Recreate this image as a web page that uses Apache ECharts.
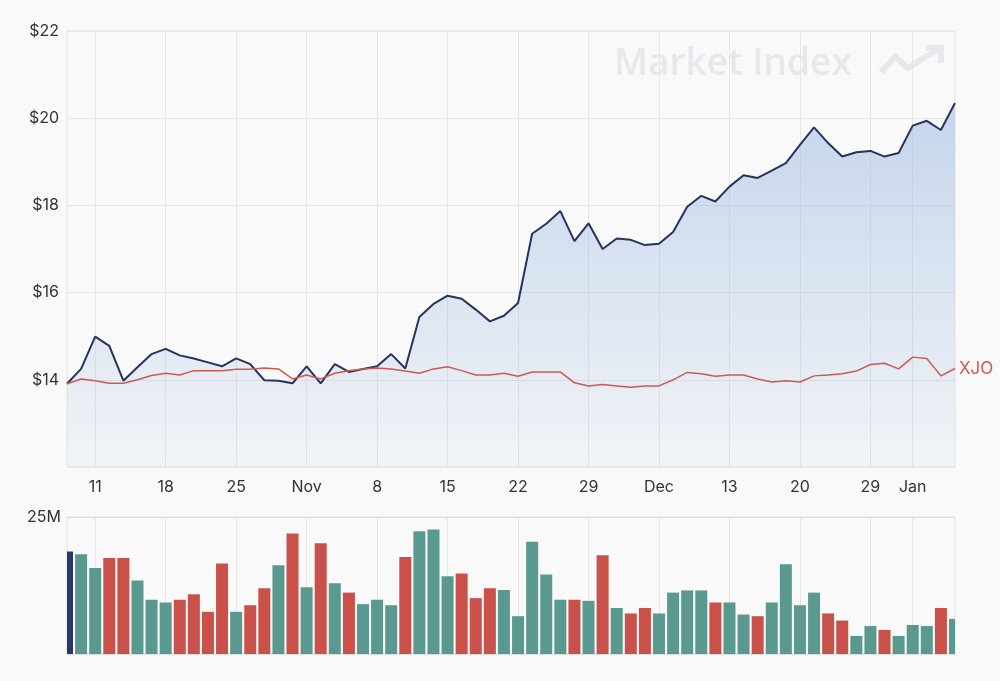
<!DOCTYPE html>
<html>
<head>
<meta charset="utf-8">
<script src="https://cdn.jsdelivr.net/npm/echarts@6/dist/echarts.min.js"></script>
<style>
  html,body{margin:0;padding:0;background:#f9f9f9;}
  #main{width:1000px;height:681px;}
</style>
</head>
<body>
<div id="main"></div>
<script>
// trading days, Oct 2021 - Jan 2022
var dates = [
  '2021-10-07','2021-10-08',
  '2021-10-11','2021-10-12','2021-10-13','2021-10-14','2021-10-15',
  '2021-10-18','2021-10-19','2021-10-20','2021-10-21','2021-10-22',
  '2021-10-25','2021-10-26','2021-10-27','2021-10-28','2021-10-29',
  '2021-11-01','2021-11-02','2021-11-03','2021-11-04','2021-11-05',
  '2021-11-08','2021-11-09','2021-11-10','2021-11-11','2021-11-12',
  '2021-11-15','2021-11-16','2021-11-17','2021-11-18','2021-11-19',
  '2021-11-22','2021-11-23','2021-11-24','2021-11-25','2021-11-26',
  '2021-11-29','2021-11-30','2021-12-01','2021-12-02','2021-12-03',
  '2021-12-06','2021-12-07','2021-12-08','2021-12-09','2021-12-10',
  '2021-12-13','2021-12-14','2021-12-15','2021-12-16','2021-12-17',
  '2021-12-20','2021-12-21','2021-12-22','2021-12-23','2021-12-24',
  '2021-12-29','2021-12-30','2021-12-31',
  '2022-01-04','2022-01-05','2022-01-06','2022-01-07'
];
var tickDates = ['2021-10-11','2021-10-18','2021-10-25','2021-11-01','2021-11-08','2021-11-15','2021-11-22','2021-11-29','2021-12-06','2021-12-13','2021-12-20','2021-12-29','2022-01-04'];
var tickText  = ['11','18','25','Nov','8','15','22','29','Dec','13','20','29','Jan'];

var price = [13.91,14.25,14.99,14.78,13.98,14.29,14.59,14.71,14.56,14.49,14.40,14.31,14.49,14.36,13.99,13.98,
  13.92,14.31,13.92,14.36,14.18,14.25,14.31,14.59,14.26,15.44,15.74,15.93,15.86,15.61,15.34,15.47,
  15.76,17.35,17.58,17.87,17.18,17.59,17.00,17.24,17.21,17.09,17.12,17.39,17.97,18.22,18.09,18.43,
  18.69,18.63,18.80,18.97,19.39,19.79,19.43,19.12,19.22,19.25,19.12,19.20,19.83,19.94,19.73,20.35];
var xjo = [13.91,14.02,13.98,13.92,13.92,14.00,14.10,14.15,14.11,14.21,14.21,14.21,14.24,14.24,14.27,14.25,
  14.02,14.11,14.02,14.15,14.21,14.25,14.27,14.25,14.20,14.15,14.25,14.30,14.21,14.11,14.11,14.15,
  14.08,14.18,14.18,14.18,13.93,13.86,13.89,13.86,13.83,13.86,13.86,14.00,14.17,14.14,14.08,14.11,
  14.11,14.02,13.95,13.98,13.95,14.09,14.11,14.14,14.20,14.35,14.38,14.25,14.52,14.49,14.09,14.26];
// volume in millions
var volume = [18.7,18.2,15.7,17.5,17.5,13.4,9.9,9.4,9.9,10.9,7.7,16.5,7.7,8.9,12.0,16.2,
  22.0,12.2,20.2,12.9,11.2,9.1,9.9,8.9,17.7,22.4,22.7,14.2,14.7,10.2,12.0,11.7,
  6.9,20.5,14.5,9.9,9.9,9.7,18.0,8.4,7.4,8.4,7.4,11.2,11.6,11.6,9.4,9.4,
  7.2,6.9,9.4,16.4,8.9,11.2,7.4,6.1,3.3,5.1,4.4,3.3,5.3,5.1,8.4,6.4];
// 1 = up day, -1 = down day, 0 = first (selected)
var dir = [0,1,1,-1,-1,1,1,1,-1,-1,-1,-1,1,-1,-1,1,
  -1,1,-1,1,-1,1,1,1,-1,1,1,1,-1,-1,-1,1,
  1,1,1,1,-1,1,-1,1,-1,-1,1,1,1,1,-1,1,
  1,-1,1,1,1,1,-1,-1,1,1,-1,1,1,1,-1,1];

var chart = echarts.init(document.getElementById('main'));
var labelFont = {color:'#333', fontSize:16, fontFamily:'Inter'};

function isTick(i){ return tickDates.indexOf(dates[i]) >= 0; }

var volData = [];
for(var i=0;i<volume.length;i++)
{
  var c = dir[i]==0 ? '#253869' : (dir[i]>0 ? '#5a9990' : '#c9514a');
  volData.push({value:[i, volume[i]], itemStyle:{color:c}});
}

// bars centred on the trading day, cut at the grid edge
function renderVolume(params, api)
{
  var top = api.coord([api.value(0), api.value(1)]);
  var base = api.coord([api.value(0), 0]);
  var w = 12;
  var cs = params.coordSys;
  var rect = echarts.graphic.clipRectByRect(
    {x:top[0]-w/2, y:top[1], width:w, height:base[1]-top[1]},
    {x:cs.x, y:cs.y, width:cs.width, height:cs.height}
  );
  if(!rect){ return; }
  return {type:'rect', shape:rect, style:{fill:api.visual('color')}};
}

var option = {
  backgroundColor:'#f9f9f9',
  animation:false,
  grid:[
    {left:67, right:45, top:31, height:436, show:true, borderColor:'#e4e4e4', borderWidth:1},
    {left:67, right:45, top:517, height:137, show:true, borderColor:'#e4e4e4', borderWidth:1}
  ],
  xAxis:[
    {
      type:'category', gridIndex:0, data:dates, boundaryGap:false,
      axisLine:{show:false}, axisTick:{show:false},
      axisLabel:Object.assign({
        interval:function(i){ return isTick(i); },
        margin:12,
        formatter:function(v){ var k=tickDates.indexOf(v); return k>=0 ? tickText[k] : ''; }
      }, labelFont),
      splitLine:{show:true, interval:function(i){ return isTick(i); }, lineStyle:{color:'#e6e6e6'}}
    },
    {
      type:'category', gridIndex:1, data:dates, boundaryGap:false,
      axisLine:{show:false}, axisTick:{show:false}, axisLabel:{show:false},
      splitLine:{show:true, interval:function(i){ return isTick(i); }, lineStyle:{color:'#e6e6e6'}}
    }
  ],
  yAxis:[
    {
      type:'value', gridIndex:0, min:12, max:22, interval:2,
      axisLine:{show:false}, axisTick:{show:false},
      axisLabel:Object.assign({margin:8, showMinLabel:false, formatter:function(v){ return v==12 ? '' : '$'+v; }}, labelFont),
      splitLine:{lineStyle:{color:'#e6e6e6'}}
    },
    {
      type:'value', gridIndex:1, min:0, max:25, interval:25,
      axisLine:{show:false}, axisTick:{show:false},
      axisLabel:Object.assign({margin:6, formatter:function(v){ return v==25 ? '25M' : ''; }}, labelFont),
      splitLine:{lineStyle:{color:'#dcdcdc'}}
    }
  ],
  graphic:[
    {
      type:'text', left:614, top:46, silent:true,
      style:{text:'Market Index', fill:'#e6e8ec', font:'600 37px "Open Sans"'}
    },
    {
      type:'polyline', silent:true,
      shape:{points:[[881,72],[895,57],[908,68],[940,48]]},
      style:{stroke:'#e6e8ec', lineWidth:6, fill:null, lineJoin:'miter'}
    },
    {
      type:'polyline', silent:true,
      shape:{points:[[926,48],[941,48],[941,63]]},
      style:{stroke:'#e6e8ec', lineWidth:6, fill:null, lineJoin:'miter'}
    }
  ],
  series:[
    {
      name:'Price', type:'line', xAxisIndex:0, yAxisIndex:0, data:price,
      symbol:'none', lineStyle:{color:'#24345f', width:2},
      areaStyle:{origin:'start', opacity:1, color:new echarts.graphic.LinearGradient(0,0,0,1,[
        {offset:0, color:'rgba(150,180,222,0.52)'},
        {offset:1, color:'rgba(150,180,222,0.08)'}
      ])},
      z:3
    },
    {
      name:'XJO', type:'line', xAxisIndex:0, yAxisIndex:0, data:xjo,
      symbol:'none', lineStyle:{color:'#cc5a52', width:1.5},
      endLabel:{show:true, formatter:'XJO', color:'#cc5a52', fontSize:17, fontFamily:'Inter', distance:4},
      z:4
    },
    {
      name:'Volume', type:'custom', xAxisIndex:1, yAxisIndex:1, data:volData,
      renderItem:renderVolume, encode:{x:0, y:1}
    }
  ]
};
chart.setOption(option);
</script>
</body>
</html>
